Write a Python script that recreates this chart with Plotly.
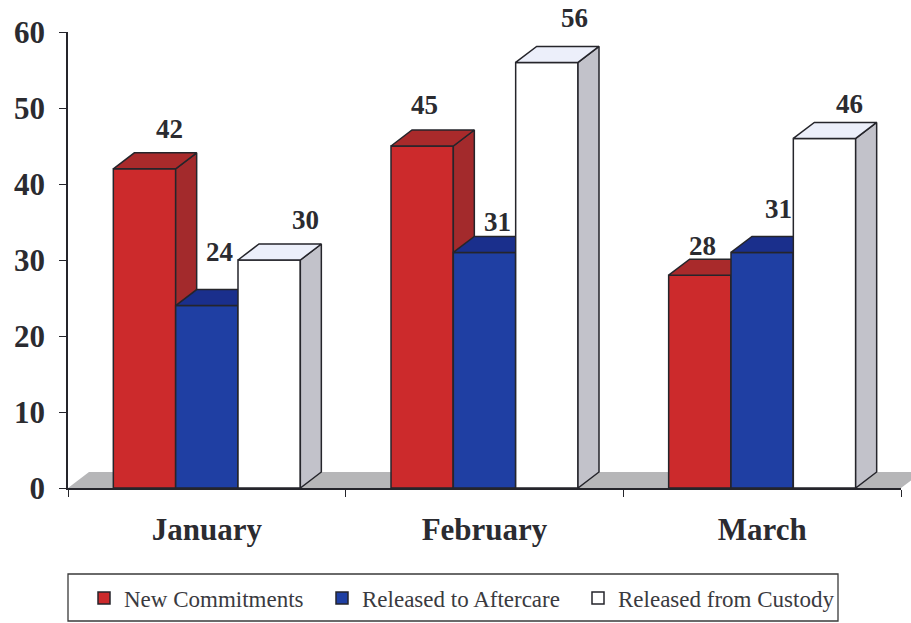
import plotly.graph_objects as go

categories = ["January", "February", "March"]
new_commitments = [42, 45, 28]
released_aftercare = [24, 31, 31]
released_custody = [30, 56, 46]
y_ticks = [0, 10, 20, 30, 40, 50, 60]

SERIES = [
    ("New Commitments", new_commitments, "#CC2A2C", "#A32A2C", "#A92A2B"),
    ("Released to Aftercare", released_aftercare, "#1F3FA3", "#1A2F8C", "#1A2F8C"),
    ("Released from Custody", released_custody, "#FFFFFF", "#C2C2CA", "#ECEFFA"),
]
# label offsets in px from each bar's top centre (per series, per category)
LABEL_OFF = [[(25, 40), (2, 41), (3, 29)],
             [(13, 54), (13, 30), (16, 43)],
             [(36, 40), (28, 44), (25, 34)]]
LEGEND_X = [84, 322, 578]

L, T, W, H = 68, 32, 833, 456
BAR_W = 0.2245
DEPTH_PX, RISE_PX = 21, 16
DX, DY = DEPTH_PX / (W / 3), RISE_PX / (H / 60)
LINE = dict(color="#25252B", width=1.5)
centers = [i + 0.5 for i in range(len(categories))]

fig = go.Figure()
ax_suffix = ["", "2", "3"]
leg_suffix = ["", "2", "3"]

for s, (name, vals, col, side, top) in enumerate(SERIES):
    xa, ya = "x" + ax_suffix[s], "y" + ax_suffix[s]
    xs = [c + (s - 1) * BAR_W for c in centers]
    fig.add_trace(go.Bar(
        x=xs, y=vals, width=BAR_W, name=name, xaxis=xa, yaxis=ya,
        marker=dict(color=col, line=LINE), legend="legend" + leg_suffix[s]))
    tx, ty, sx, sy = [], [], [], []
    for x, v in zip(xs, vals):
        a, b = x - BAR_W / 2, x + BAR_W / 2
        tx += [a, a + DX, b + DX, b, a, None]
        ty += [v, v + DY, v + DY, v, v, None]
        sx += [b, b + DX, b + DX, b, b, None]
        sy += [v, v + DY, DY, 0, v, None]
    fig.add_trace(go.Scatter(x=sx, y=sy, fill="toself", fillcolor=side, mode="lines", line=LINE,
                             xaxis=xa, yaxis=ya, showlegend=False, hoverinfo="skip"))
    fig.add_trace(go.Scatter(x=tx, y=ty, fill="toself", fillcolor=top, mode="lines", line=LINE,
                             xaxis=xa, yaxis=ya, showlegend=False, hoverinfo="skip"))
    for x, v, (ox, oy) in zip(xs, vals, LABEL_OFF[s]):
        fig.add_annotation(x=x, y=v, xref="x", yref="y", text=str(v), showarrow=False,
                           xshift=ox, yshift=oy, font=dict(size=27, color="#2B2B30",
                           family="Liberation Serif", weight="bold"))

serif = "Liberation Serif"
xrange, yrange = [0, 3], [0, 60]
fx, fy = DEPTH_PX / W, RISE_PX / H
layout = dict(
    width=911, height=623,
    margin=dict(l=L, r=911 - L - W, t=T, b=623 - T - H, autoexpand=False),
    paper_bgcolor="#FFFFFF", plot_bgcolor="#FFFFFF", barmode="overlay", hovermode=False,
    xaxis=dict(range=xrange, tickmode="array", tickvals=centers, ticktext=categories, ticks="",
               showgrid=False, zeroline=False, showline=True, linecolor="#25252B", linewidth=1.5,
               ticklabelstandoff=13, automargin=False,
               tickfont=dict(family=serif, size=31, color="#2B2B30", weight="bold"),
               minor=dict(tickmode="array", tickvals=[0, 1, 2, 3], ticks="outside", ticklen=7,
                          tickwidth=1.2, tickcolor="#25252B", showgrid=False)),
    yaxis=dict(range=yrange, tickmode="array", tickvals=y_ticks, ticks="outside", ticklen=7,
               tickwidth=1.2, tickcolor="#25252B", showgrid=False, zeroline=False, showline=True,
               linecolor="#25252B", linewidth=1.5, ticklabelstandoff=8, automargin=False,
               tickfont=dict(family=serif, size=31, color="#2B2B30", weight="bold")),
    shapes=[
        dict(type="path", xref="paper", yref="paper", layer="below",
             path=f"M 0 0 L {fx} {fy} L {1 + fx} {fy} L 1 0 Z",
             fillcolor="#B6B6B8", line=dict(width=0)),
        dict(type="rect", xref="paper", yref="paper", x0=0, x1=770 / W,
             y0=-133 / H, y1=-86 / H, line=dict(color="#3A3A3A", width=1.3)),
    ],
)
for s in ax_suffix[1:]:
    layout["xaxis" + s] = dict(range=xrange, overlaying="x", visible=False)
    layout["yaxis" + s] = dict(range=yrange, overlaying="y", visible=False)
for s, lx in zip(leg_suffix, LEGEND_X):
    layout["legend" + s] = dict(x=(lx - L) / W, y=-110 / H, xanchor="left", yanchor="middle",
                                bgcolor="rgba(0,0,0,0)", borderwidth=0,
                                font=dict(family=serif, size=23, color="#3A3A40"))
fig.update_layout(**layout)
fig.write_html("out.html", config=dict(displayModeBar=False),
               post_script="document.body.style.margin='0';")
